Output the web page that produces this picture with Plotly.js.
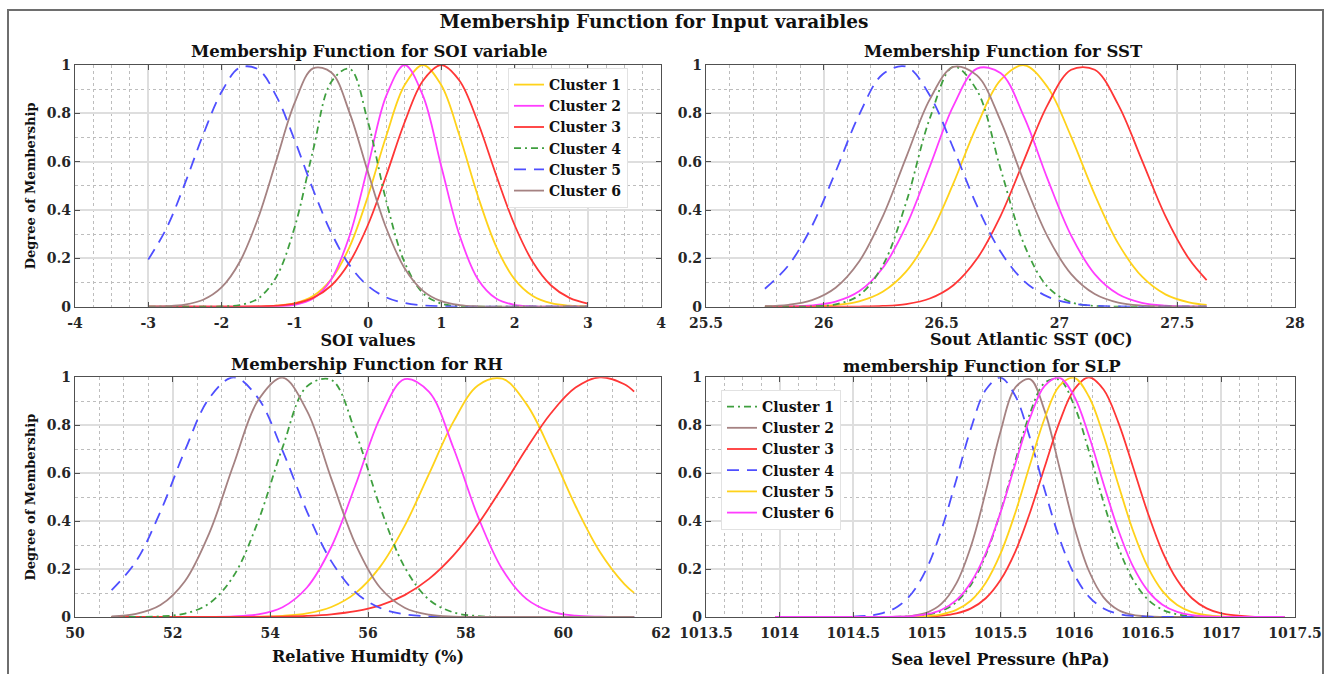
<!DOCTYPE html>
<html>
<head>
<meta charset="utf-8">
<script src="https://cdn.plot.ly/plotly-3.0.1.min.js"></script>
<style>
  html, body { margin: 0; padding: 0; background: #fff; }
  #chart { width: 1330px; height: 674px; }
</style>
</head>
<body>
<div id="chart"></div>
<script>
// ---------------- DATA ----------------
// SOI subplot
const soiX = [-3, -2.75, -2.5, -2.25, -2, -1.75, -1.5, -1.25, -1, -0.75, -0.5, -0.25, 0, 0.25, 0.5, 0.75, 1, 1.25, 1.5, 1.75, 2, 2.25, 2.5, 2.75, 3];
const soiC1 = [0, 0, 0, 0, 0, 0.0002, 0.0009, 0.0039, 0.0143, 0.0439, 0.114, 0.249, 0.458, 0.707, 0.917, 1, 0.917, 0.707, 0.458, 0.249, 0.114, 0.0439, 0.0143, 0.0039, 0.0009];
const soiC2 = [0, 0, 0, 0, 0, 0, 0.0002, 0.0013, 0.0076, 0.0337, 0.114, 0.295, 0.581, 0.873, 1, 0.873, 0.581, 0.295, 0.114, 0.0337, 0.0076, 0.0013, 0.0002, 0, 0];
const soiC3 = [0, 0, 0, 0, 0.0001, 0.0003, 0.0012, 0.0042, 0.0132, 0.0364, 0.0878, 0.185, 0.339, 0.544, 0.763, 0.935, 1, 0.935, 0.763, 0.544, 0.339, 0.185, 0.0878, 0.0364, 0.0132];
const soiC4 = [0, 0, 0, 0.0001, 0.001, 0.0069, 0.034, 0.124, 0.330, 0.647, 0.931, 0.984, 0.764, 0.436, 0.183, 0.0561, 0.0127, 0.0021, 0.0003, 0, 0, 0, 0, 0, 0];
const soiC5 = [0.195, 0.3247, 0.509, 0.712, 0.888, 0.989, 0.982, 0.870, 0.688, 0.485, 0.305, 0.171, 0.0858, 0.0383, 0.0153, 0.0054, 0.0017, 0.0005, 0.0001, 0, 0, 0, 0, 0, 0];
const soiC6 = [0.0005, 0.0022, 0.0086, 0.0286, 0.0796, 0.186, 0.367, 0.6065, 0.844, 0.986, 0.969, 0.801, 0.556, 0.3247, 0.159, 0.0657, 0.0228, 0.0066, 0.0016, 0.0003, 0, 0, 0, 0, 0];
const soiTickVals = [-4, -3, -2, -1, 0, 1, 2, 3, 4];
const soiTickText = ["-4", "-3", "-2", "-1", "0", "1", "2", "3", "4"];

// SST subplot
const sstX = [25.75, 25.85, 25.95, 26.05, 26.15, 26.25, 26.35, 26.45, 26.55, 26.65, 26.75, 26.85, 26.95, 27.05, 27.15, 27.25, 27.35, 27.45, 27.55, 27.625];
const sstC1 = [0.0001, 0.0004, 0.0018, 0.0068, 0.0222, 0.0617, 0.146, 0.296, 0.510, 0.749, 0.937, 0.999, 0.908, 0.703, 0.464, 0.261, 0.125, 0.0509, 0.0177, 0.0072];
const sstC2 = [0.0002, 0.0013, 0.0057, 0.0208, 0.0635, 0.160, 0.335, 0.580, 0.831, 0.985, 0.967, 0.785, 0.528, 0.294, 0.135, 0.0516, 0.0163, 0.0043, 0.0009, 0.0003];
const sstC3 = [0, 0, 0, 0.0001, 0.0007, 0.0031, 0.0111, 0.034, 0.0889, 0.198, 0.375, 0.6065, 0.835, 0.980, 0.980, 0.835, 0.6065, 0.375, 0.198, 0.110];
const sstC4 = [0, 0.0001, 0.0013, 0.0093, 0.0473, 0.170, 0.433, 0.779, 0.993, 0.895, 0.571, 0.258, 0.0822, 0.0186, 0.003, 0.0003, 0, 0, 0, 0];
const sstC5 = [0.0743, 0.171, 0.334, 0.558, 0.794, 0.962, 0.993, 0.874, 0.655, 0.418, 0.228, 0.106, 0.0418, 0.0141, 0.004, 0.001, 0.0002, 0, 0, 0];
const sstC6 = [0.002, 0.008, 0.0275, 0.0786, 0.187, 0.373, 0.619, 0.858, 0.992, 0.957, 0.770, 0.517, 0.290, 0.135, 0.0527, 0.0172, 0.0047, 0.0011, 0.0002, 0];

// RH subplot
const rhX = [50.75, 51.25, 51.75, 52.25, 52.75, 53.25, 53.75, 54.25, 54.75, 55.25, 55.75, 56.25, 56.75, 57.25, 57.75, 58.25, 58.75, 59.25, 59.75, 60.25, 60.75, 61.25, 61.45];
const rhYellow = [0, 0, 0, 0, 0.0001, 0.0003, 0.0013, 0.0048, 0.0151, 0.0419, 0.1007, 0.210, 0.380, 0.597, 0.815, 0.966, 0.994, 0.887, 0.688, 0.463, 0.271, 0.137, 0.1007];
const rhPink = [0, 0, 0, 0, 0.0004, 0.0023, 0.0108, 0.0408, 0.123, 0.293, 0.554, 0.832, 0.992, 0.939, 0.705, 0.420, 0.199, 0.0745, 0.0222, 0.0052, 0.001, 0.0001, 0];
const rhRed = [0, 0, 0, 0, 0.0001, 0.0002, 0.0007, 0.0019, 0.0048, 0.0111, 0.0241, 0.0486, 0.0911, 0.159, 0.257, 0.387, 0.541, 0.704, 0.851, 0.957, 1.0, 0.971, 0.940];
const rhGreen = [0, 0.0004, 0.0027, 0.0142, 0.0567, 0.172, 0.400, 0.707, 0.962, 0.989, 0.767, 0.458, 0.208, 0.0723, 0.0192, 0.0039, 0.0006, 0.0001, 0, 0, 0, 0, 0];
const rhBlue = [0.112, 0.232, 0.440, 0.694, 0.913, 1, 0.913, 0.694, 0.440, 0.232, 0.102, 0.0374, 0.0114, 0.0029, 0.0006, 0.0001, 0, 0, 0, 0, 0, 0, 0];
const rhBrown = [0.0026, 0.0129, 0.0497, 0.149, 0.350, 0.637, 0.904, 0.999, 0.860, 0.576, 0.301, 0.122, 0.0387, 0.0096, 0.0018, 0.0003, 0, 0, 0, 0, 0, 0, 0];

// SLP subplot
const slpX = [1013.97, 1014.2, 1014.5, 1014.6, 1014.7, 1014.8, 1014.9, 1015.0, 1015.1, 1015.2, 1015.3, 1015.4, 1015.5, 1015.6, 1015.7, 1015.8, 1015.9, 1016.0, 1016.1, 1016.2, 1016.3, 1016.4, 1016.5, 1016.6, 1016.7, 1016.8, 1016.9, 1017.0, 1017.2, 1017.43];
const slpC1 = [0, 0, 0, 0, 0.0002, 0.0008, 0.0028, 0.0089, 0.0251, 0.0622, 0.135, 0.259, 0.438, 0.650, 0.849, 0.977, 0.990, 0.8825, 0.693, 0.478, 0.291, 0.156, 0.0734, 0.0304, 0.0111, 0.0036, 0.001, 0.0003, 0, 0];
const slpC2 = [0, 0, 0, 0, 0.0002, 0.0012, 0.0051, 0.0184, 0.0555, 0.140, 0.296, 0.523, 0.773, 0.957, 0.992, 0.860, 0.625, 0.379, 0.193, 0.0821, 0.0292, 0.0087, 0.0022, 0.0005, 0.0001, 0, 0, 0, 0, 0];
const slpC3 = [0, 0, 0, 0, 0, 0.0002, 0.0006, 0.0018, 0.0055, 0.0148, 0.0358, 0.0781, 0.154, 0.272, 0.435, 0.626, 0.812, 0.949, 1, 0.949, 0.812, 0.626, 0.435, 0.272, 0.154, 0.0781, 0.0358, 0.0148, 0.0018, 0.0001];
const slpC4 = [null, null, 0.0015, 0.0053, 0.0161, 0.0429, 0.100, 0.204, 0.366, 0.573, 0.788, 0.948, 0.999, 0.923, 0.747, 0.530, 0.329, 0.179, 0.0854, 0.0357, 0.0131, 0.0042, 0.0012, 0.0003, 0.0001, 0, 0, 0, 0, 0];
const slpC5 = [0, 0, 0, 0, 0.0001, 0.0003, 0.0012, 0.0039, 0.0113, 0.0296, 0.0689, 0.143, 0.264, 0.434, 0.635, 0.829, 0.964, 0.998, 0.920, 0.756, 0.553, 0.360, 0.209, 0.108, 0.0498, 0.0205, 0.0075, 0.0024, 0.0002, 0];
const slpC6 = [0, 0, 0, 0.0001, 0.0003, 0.0012, 0.004, 0.0117, 0.0303, 0.0702, 0.145, 0.266, 0.436, 0.637, 0.830, 0.964, 0.998, 0.921, 0.757, 0.555, 0.363, 0.211, 0.110, 0.0508, 0.021, 0.0077, 0.0025, 0.0007, 0, 0];
const slpTickVals = [1013.5, 1014, 1014.5, 1015, 1015.5, 1016, 1016.5, 1017, 1017.5];
const slpTickText = ["1013.5", "1014", "1014.5", "1015", "1015.5", "1016", "1016.5", "1017", "1017.5"];

const clusterNames = ["Cluster 1", "Cluster 2", "Cluster 3", "Cluster 4", "Cluster 5", "Cluster 6"];

// ---------------- STYLES ----------------
const FONT = "DejaVu Serif";
const W = 1330, H = 674;
const LW = 1.8;
const STY = {
  yellow: { color: "#FFD21A", width: LW, dash: "solid" },
  pink:   { color: "#FF3DFF", width: LW, dash: "solid" },
  red:    { color: "#FF3636", width: LW, dash: "solid" },
  green:  { color: "#3F9F3F", width: LW, dash: "7px,4px,2px,4px" },
  blue:   { color: "#4F4FFF", width: LW, dash: "12px,8px" },
  brown:  { color: "#A58282", width: LW, dash: "solid" }
};

function tr(x, y, name, sty, xa, ya, legend, show) {
  return {
    type: "scatter", mode: "lines", x: x, y: y, name: name,
    xaxis: xa, yaxis: ya, legend: legend || "legend", showlegend: !!show,
    line: { color: sty.color, width: sty.width, dash: sty.dash, shape: "spline", smoothing: 1 },
    hoverinfo: "x+y+name"
  };
}

const traces = [
  // SOI (legend 1)
  tr(soiX, soiC1, clusterNames[0], STY.yellow, "x", "y", "legend", true),
  tr(soiX, soiC2, clusterNames[1], STY.pink, "x", "y", "legend", true),
  tr(soiX, soiC3, clusterNames[2], STY.red, "x", "y", "legend", true),
  tr(soiX, soiC4, clusterNames[3], STY.green, "x", "y", "legend", true),
  tr(soiX, soiC5, clusterNames[4], STY.blue, "x", "y", "legend", true),
  tr(soiX, soiC6, clusterNames[5], STY.brown, "x", "y", "legend", true),
  // SST
  tr(sstX, sstC1, clusterNames[0], STY.yellow, "x2", "y2"),
  tr(sstX, sstC2, clusterNames[1], STY.pink, "x2", "y2"),
  tr(sstX, sstC3, clusterNames[2], STY.red, "x2", "y2"),
  tr(sstX, sstC4, clusterNames[3], STY.green, "x2", "y2"),
  tr(sstX, sstC5, clusterNames[4], STY.blue, "x2", "y2"),
  tr(sstX, sstC6, clusterNames[5], STY.brown, "x2", "y2"),
  // RH
  tr(rhX, rhYellow, clusterNames[0], STY.yellow, "x3", "y3"),
  tr(rhX, rhPink, clusterNames[1], STY.pink, "x3", "y3"),
  tr(rhX, rhRed, clusterNames[2], STY.red, "x3", "y3"),
  tr(rhX, rhGreen, clusterNames[3], STY.green, "x3", "y3"),
  tr(rhX, rhBlue, clusterNames[4], STY.blue, "x3", "y3"),
  tr(rhX, rhBrown, clusterNames[5], STY.brown, "x3", "y3"),
  // SLP (legend 2)
  tr(slpX, slpC1, clusterNames[0], STY.green, "x4", "y4", "legend2", true),
  tr(slpX, slpC2, clusterNames[1], STY.brown, "x4", "y4", "legend2", true),
  tr(slpX, slpC3, clusterNames[2], STY.red, "x4", "y4", "legend2", true),
  tr(slpX, slpC4, clusterNames[3], STY.blue, "x4", "y4", "legend2", true),
  tr(slpX, slpC5, clusterNames[4], STY.yellow, "x4", "y4", "legend2", true),
  tr(slpX, slpC6, clusterNames[5], STY.pink, "x4", "y4", "legend2", true)
];

const tickFont = { family: FONT, size: 14, weight: "bold", color: "#262626" };
const axTitleFont = { family: FONT, size: 16, weight: "bold", color: "#111" };
const subTitleFont = { family: FONT, size: 16.5, weight: "bold", color: "#111" };
const yTitleFont = { family: FONT, size: 13, weight: "bold", color: "#111" };

function baseAxis(extra) {
  return Object.assign({
    showline: true, linecolor: "#505050", linewidth: 1.3, mirror: "ticks",
    ticks: "inside", ticklen: 5, tickwidth: 1, tickcolor: "#505050",
    showgrid: true, gridcolor: "#dedede", gridwidth: 1.5,
    zeroline: false, fixedrange: true, automargin: false,
    tickfont: tickFont
  }, extra);
}
function minor(dtick, tick0) {
  return { tickmode: "linear", dtick: dtick, tick0: tick0, showgrid: true, gridcolor: "#bdbdbd", griddash: "dot", gridwidth: 1, ticks: "" };
}

// domains in px converted to paper fraction (margins are zero)
const px = v => v / W, py = v => 1 - v / H;
const xdomL = [px(75), px(661)], xdomR = [px(706), px(1295)];
const ydomT = [py(306.7), py(65)], ydomB = [py(617), py(377.3)];

const yAxisCommon = { range: [0, 1], dtick: 0.2, tick0: 0, minor: minor(0.1, 0) };
const xLabelShift = { ticklabelstandoff: 3 };

const layout = {
  width: W, height: H,
  margin: { l: 0, r: 0, t: 0, b: 0, pad: 0 },
  paper_bgcolor: "#ffffff", plot_bgcolor: "#ffffff",
  title: {
    text: "Membership Function for Input varaibles",
    font: { family: FONT, size: 18.5, weight: "bold", color: "#111" },
    x: px(654), y: py(22), xanchor: "center", yanchor: "middle", xref: "container", yref: "container"
  },
  xaxis: baseAxis(Object.assign({ domain: xdomL, anchor: "y", range: [-4, 4], tickmode: "array", tickvals: soiTickVals, ticktext: soiTickText,
    minor: minor(0.25, -4),
    title: { text: "SOI values", font: axTitleFont, standoff: 0 } }, xLabelShift)),
  yaxis: baseAxis(Object.assign({ domain: ydomT, anchor: "x",
    title: { text: "Degree of Membership", font: yTitleFont, standoff: 8 } }, yAxisCommon)),
  xaxis2: baseAxis(Object.assign({ domain: xdomR, anchor: "y2", range: [25.5, 28], dtick: 0.5, tick0: 25.5, minor: minor(0.1, 25.5) }, xLabelShift)),
  yaxis2: baseAxis(Object.assign({ domain: ydomT, anchor: "x2" }, yAxisCommon)),
  xaxis3: baseAxis(Object.assign({ domain: xdomL, anchor: "y3", range: [50, 62], dtick: 2, tick0: 50, minor: minor(0.5, 50),
    title: { text: "Relative Humidty (%)", font: axTitleFont, standoff: 10 } }, xLabelShift)),
  yaxis3: baseAxis(Object.assign({ domain: ydomB, anchor: "x3",
    title: { text: "Degree of Membership", font: yTitleFont, standoff: 8 } }, yAxisCommon)),
  xaxis4: baseAxis(Object.assign({ domain: xdomR, anchor: "y4", range: [1013.5, 1017.5], tickmode: "array", tickvals: slpTickVals, ticktext: slpTickText,
    minor: minor(0.125, 1013.5),
    title: { text: "Sea level Pressure (hPa)", font: axTitleFont, standoff: 13 } }, xLabelShift)),
  yaxis4: baseAxis(Object.assign({ domain: ydomB, anchor: "x4" }, yAxisCommon)),
  legend: {
    x: px(508), y: py(68), xanchor: "left", yanchor: "top",
    bgcolor: "#ffffff", bordercolor: "#e2e2e2", borderwidth: 1,
    font: { family: FONT, size: 14, weight: "bold", color: "#111" },
    tracegroupgap: 0, itemclick: false, itemdoubleclick: false
  },
  legend2: {
    x: px(721), y: py(390), xanchor: "left", yanchor: "top",
    bgcolor: "#ffffff", bordercolor: "#e2e2e2", borderwidth: 1,
    font: { family: FONT, size: 14, weight: "bold", color: "#111" },
    tracegroupgap: 0, itemclick: false, itemdoubleclick: false
  },
  annotations: [
    { text: "Membership Function for SOI variable", x: px(368.5), y: py(51) },
    { text: "Membership Function for SST", x: px(1003), y: py(51) },
    { text: "Membership Function for RH", x: px(367), y: py(364.5) },
    { text: "membership Function for SLP", x: px(982), y: py(366) }
  ].map(a => Object.assign({ xref: "paper", yref: "paper", xanchor: "center", yanchor: "middle", showarrow: false, font: subTitleFont }, a))
  .concat([
    { text: "Sout Atlantic SST (0C)", x: px(1030.5), y: py(339.5), xref: "paper", yref: "paper",
      xanchor: "center", yanchor: "middle", showarrow: false, font: axTitleFont }
  ]),
  shapes: [
    { type: "rect", xref: "paper", yref: "paper", x0: px(8), x1: px(1323), y0: py(690), y1: py(10),
      line: { color: "#6e6e6e", width: 2 }, fillcolor: "rgba(0,0,0,0)", layer: "above" }
  ]
};

Plotly.newPlot("chart", traces, layout, { displayModeBar: false, staticPlot: false, responsive: false });
</script>
</body>
</html>
